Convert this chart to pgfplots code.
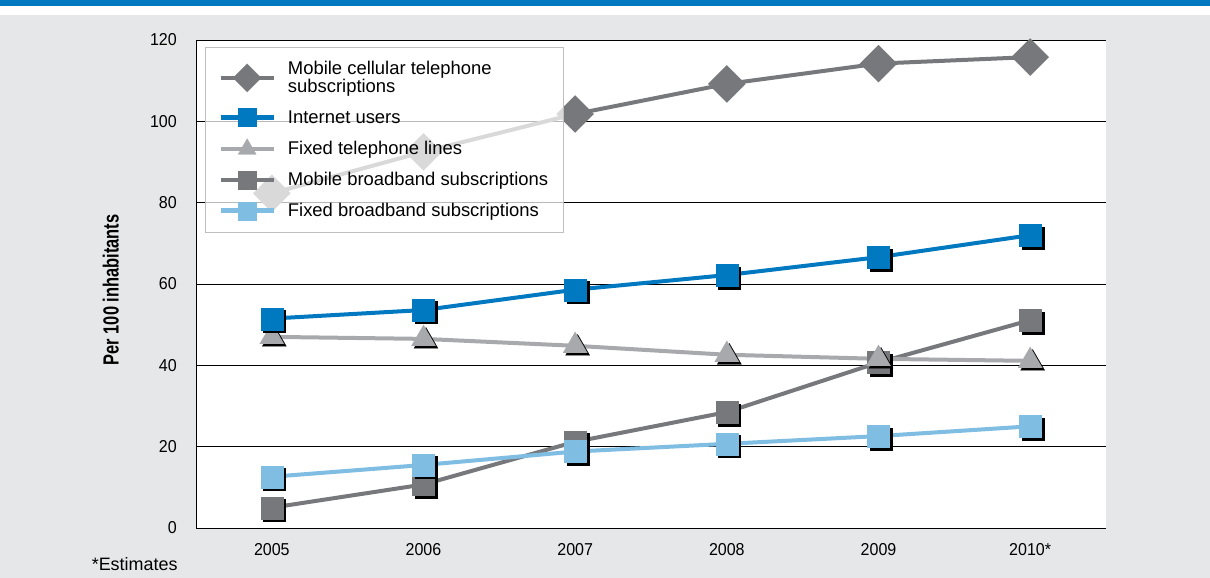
\documentclass[border=0pt]{standalone}
\usepackage{pgfplots}
\pgfplotsset{compat=1.18}
\usepackage{pgfplotstable}
\usepackage{fontspec}
\setmainfont{Liberation Sans}
\newfontfamily\condfont{Liberation Sans}[FakeStretch=0.75]
\newfontfamily\tickfont{Liberation Sans}[FakeStretch=0.93]

\definecolor{bgGray}{HTML}{E6E7E8}
\definecolor{barBlue}{HTML}{0079C1}
\definecolor{cellGray}{HTML}{77787B}
\definecolor{netBlue}{HTML}{0079C1}
\definecolor{telGray}{HTML}{A7A9AC}
\definecolor{mbbGray}{HTML}{77787B}
\definecolor{fbbBlue}{HTML}{7FBDE2}

% per 100 inhabitants, 2005..2010*
\pgfplotstableread{
idx  cell   net   tel   mbb   fbb
0    82.3   51.5  47.0   5.0  12.6
1    92.5   53.6  46.5  10.7  15.5
2    101.8  58.6  44.8  21.2  18.8
3    109.2  62.2  42.6  28.5  20.7
4    114.2  66.6  41.6  40.7  22.6
5    115.8  72.0  41.1  51.1  25.0
}\ictdata

\pgfplotsset{
  shadowmarks/.style={only marks, forget plot, black,
    mark options={xshift=2.5bp, yshift=-2.5bp, fill=black, draw=black, line width=0.1bp}},
  series/.style={color=#1, line width=4bp, forget plot,
    mark options={solid, fill=#1, draw=#1, line width=0.1bp}},
}

\begin{document}
\begin{tikzpicture}
\useasboundingbox (0,0) rectangle (1210bp,578bp);
\fill[bgGray] (0,0) rectangle (1210bp,563bp);
\fill[white] (0,563bp) rectangle (1210bp,572bp);
\fill[barBlue] (0,572bp) rectangle (1210bp,578bp);

\begin{axis}[
  at={(196bp,50bp)}, anchor=south west,
  scale only axis, width=910bp, height=488bp,
  xmin=-0.5, xmax=5.5, ymin=0, ymax=120,
  xtick={0,...,5},
  xticklabels={2005,2006,2007,2008,2009,2010*},
  ytick={0,20,...,120},
  axis x line*=bottom, axis y line*=left,
  axis line style={black, line width=1bp},
  ymajorgrids, major grid style={black, line width=0.8bp},
  major tick length=0pt,
  axis background/.style={fill=white},
  /pgf/number format/assume math mode=true,
  ticklabel style={font=\tickfont\fontsize{17.3}{18}\selectfont},
  xticklabel style={anchor=north, inner sep=0pt, yshift=-15bp},
  yticklabel style={anchor=east, inner sep=0pt, xshift=-19bp},
  ylabel={\condfont\bfseries Per 100 inhabitants},
  ylabel style={at={(axis description cs:-0.0935,0.488)}, anchor=center,
    font=\fontsize{22}{24}\selectfont},
  legend style={at={(axis description cs:0.0099,0.9857)}, anchor=north west,
    draw=black!25, line width=0.8bp, fill=white, fill opacity=0.72,
    draw opacity=1, text opacity=1,
    font=\fontsize{18.5}{16}\selectfont,
    inner xsep=13bp, inner ysep=12bp, row sep=12bp, column sep=10bp,
    cells={anchor=west, align=left}},
  legend image code/.code={%
    \draw[mark repeat=2, mark phase=2, #1] plot coordinates {(0bp,0bp) (26.5bp,0bp) (53bp,0bp)};},
  clip=false,
]
% legend entries in the order of the original
\addlegendimage{color=cellGray, line width=4.5bp, fill opacity=1, draw opacity=1,
  mark=square*, mark size=10bp, mark options={rotate=45, fill=cellGray, draw=cellGray, line width=0.1bp}}
\addlegendentry{Mobile cellular telephone\\subscriptions}
\addlegendimage{color=netBlue, line width=4.5bp, fill opacity=1, draw opacity=1,
  mark=square*, mark size=9bp, mark options={fill=netBlue, draw=netBlue, line width=0.1bp}}
\addlegendentry{Internet users}
\addlegendimage{color=telGray, line width=4.5bp, fill opacity=1, draw opacity=1,
  mark=triangle*, mark size=10.5bp, mark options={fill=telGray, draw=telGray, line width=0.1bp}}
\addlegendentry{Fixed telephone lines}
\addlegendimage{color=mbbGray, line width=4.5bp, fill opacity=1, draw opacity=1,
  mark=square*, mark size=9bp, mark options={fill=mbbGray, draw=mbbGray, line width=0.1bp}}
\addlegendentry{Mobile broadband subscriptions}
\addlegendimage{color=fbbBlue, line width=4.5bp, fill opacity=1, draw opacity=1,
  mark=square*, mark size=9bp, mark options={fill=fbbBlue, draw=fbbBlue, line width=0.1bp}}
\addlegendentry{Fixed broadband subscriptions}

% mobile broadband
\addplot[shadowmarks, mark=square*, mark size=11bp] table[x=idx, y=mbb] {\ictdata};
\addplot[series=mbbGray, mark=square*, mark size=11bp] table[x=idx, y=mbb] {\ictdata};
% fixed broadband
\addplot[shadowmarks, mark=square*, mark size=11bp] table[x=idx, y=fbb] {\ictdata};
\addplot[series=fbbBlue, mark=square*, mark size=11bp] table[x=idx, y=fbb] {\ictdata};
% fixed telephone lines
\addplot[shadowmarks, mark=triangle*, mark size=14bp] table[x=idx, y=tel] {\ictdata};
\addplot[series=telGray, mark=triangle*, mark size=14bp] table[x=idx, y=tel] {\ictdata};
% internet users
\addplot[shadowmarks, mark=square*, mark size=11bp] table[x=idx, y=net] {\ictdata};
\addplot[series=netBlue, mark=square*, mark size=11bp] table[x=idx, y=net] {\ictdata};
% mobile cellular
\addplot[shadowmarks, mark=square*, mark size=11.3bp, mark options={rotate=45}] table[x=idx, y=cell] {\ictdata};
\addplot[series=cellGray, mark=square*, mark size=11.3bp, mark options={rotate=45}] table[x=idx, y=cell] {\ictdata};
\end{axis}

\node[anchor=base east, font=\fontsize{18}{20}\selectfont] at (181bp,8bp) {*Estimates};
\end{tikzpicture}
\end{document}
